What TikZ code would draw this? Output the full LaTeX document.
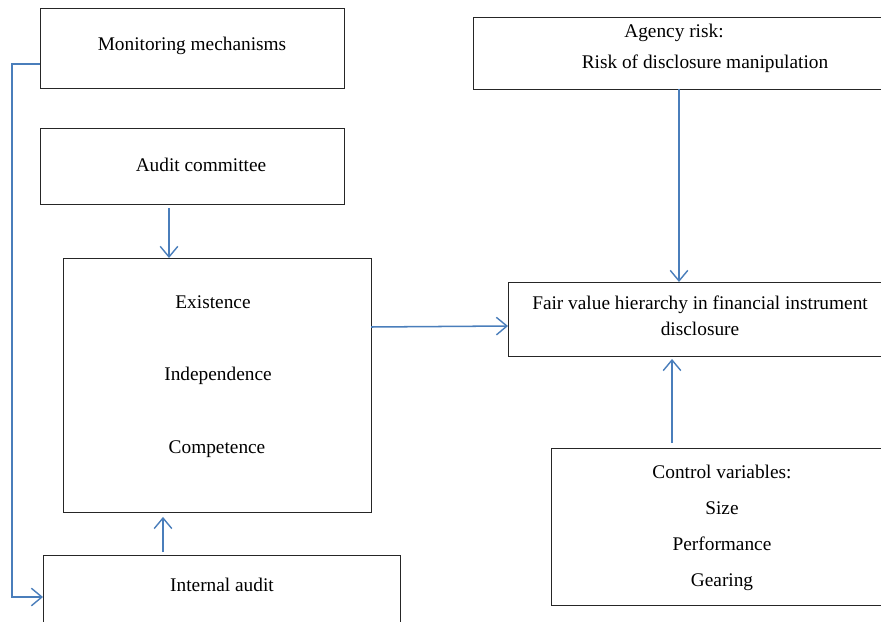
\documentclass[tikz,border=0pt]{standalone}
\usepackage{fontspec}
\setmainfont{Liberation Serif}
\usepackage{tikz}
\usetikzlibrary{arrows.meta,calc}
\definecolor{linkblue}{RGB}{74,126,187}
\tikzset{
    box/.style={draw=black!85, line width=0.8pt, inner sep=0pt, anchor=north west},
    txt/.style={font=\fontsize{16.5}{20}\selectfont, inner sep=0pt},
    link/.style={draw=linkblue, line width=1.3pt, -{Straight Barb[length=9pt,width=15pt,line width=1.2pt]}}
}
\begin{document}
\begin{tikzpicture}[x=0.03cm,y=-0.03cm]
    \clip (0,0) rectangle (881,621);
    %%Khung
    \node[box, minimum width=304*0.03cm, minimum height=80*0.03cm] (mon) at (40,8) {};
    \node[box, minimum width=304*0.03cm, minimum height=76*0.03cm] (ac) at (40,128) {};
    \node[box, minimum width=308*0.03cm, minimum height=254*0.03cm] (ac2) at (63,258) {};
    \node[box, minimum width=357*0.03cm, minimum height=90*0.03cm] (ia) at (43,555) {};
    \node[box, minimum width=430*0.03cm, minimum height=72*0.03cm] (risk) at (473,17) {};
    \node[box, minimum width=400*0.03cm, minimum height=74*0.03cm] (fv) at (508,282) {};
    \node[box, minimum width=360*0.03cm, minimum height=157*0.03cm] (cv) at (551,448) {};
    %%Chu
    \node[txt] (t1) at (192,46) {Monitoring mechanisms};
    \node[txt] (t2) at (201,165) {Audit committee};
    \node[txt] (t3) at (213,302) {Existence};
    \node[txt] (t4) at (218,376) {Independence};
    \node[txt] (t5) at (217,449) {Competence};
    \node[txt] (t6) at (222,585) {Internal audit};
    \node[txt] (t7) at (674,33) {Agency risk:};
    \node[txt] (t8) at (705,64) {Risk of disclosure manipulation};
    \node[txt] (t9) at (700,305) {Fair value hierarchy in financial instrument};
    \node[txt] (t10) at (700,329) {disclosure};
    \node[txt] (t11) at (722,472) {Control variables:};
    \node[txt] (t12) at (722,508) {Size};
    \node[txt] (t13) at (722,544) {Performance};
    \node[txt] (t14) at (722,582) {Gearing};
    %%Mui ten
    \coordinate (a1) at (169,208);
    \coordinate (a2) at (163,552);
    \coordinate (a3) at (679,89);
    \coordinate (a4) at (672,443);
    \coordinate (a5) at (371,327);
    \coordinate (m1) at (12,64);
    \coordinate (m2) at (12,597);
    \draw[link] (a1) -- (a1 |- ac2.north);
    \draw[link] (a2) -- ($(a2 |- ac2.south)+(0,4)$);
    \draw[link] (a3) -- (a3 |- fv.north);
    \draw[link] (a4) -- ($(a4 |- fv.south)+(0,2)$);
    \draw[link] (a5) -- (fv.west |- 0,326);
    \draw[link] (mon.west |- m1) -- (m1) -- (m2) -- (ia.west |- m2);
\end{tikzpicture}
\end{document}
